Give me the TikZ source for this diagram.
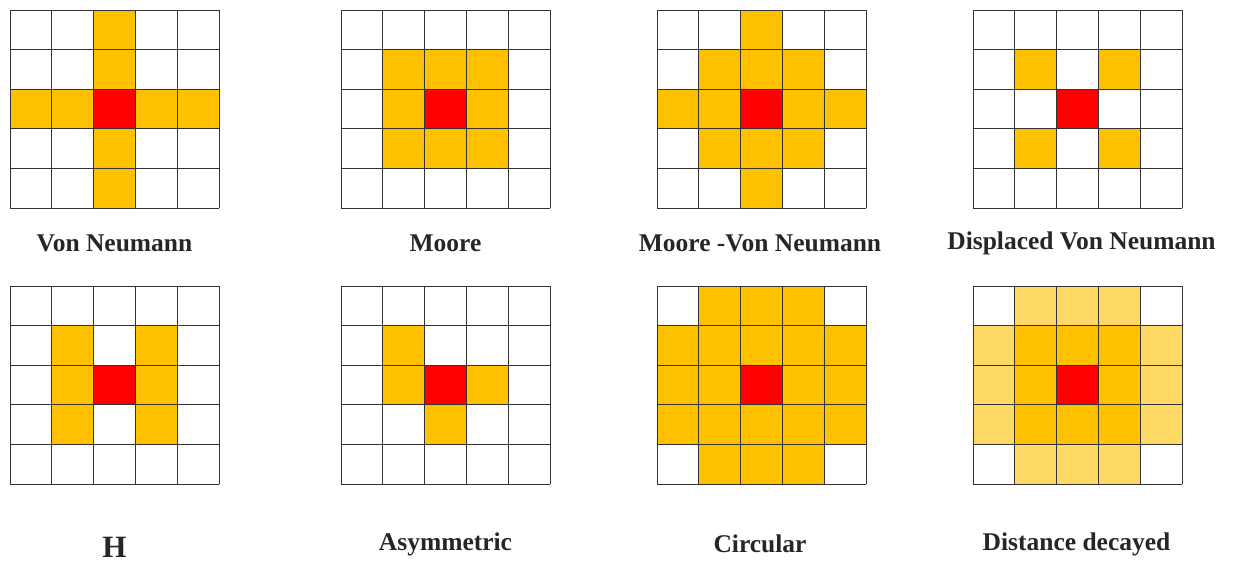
\documentclass[tikz,border=0pt]{standalone}
\usepackage{fontspec}
\setmainfont{Liberation Serif}
\usepackage{xcolor}
\usepackage{tikz}
\definecolor{nbrorange}{HTML}{FFC000}
\definecolor{nbrlight}{HTML}{FFD966}
\definecolor{cellred}{HTML}{FF0000}
\definecolor{gridgray}{HTML}{333333}
\definecolor{labelgray}{HTML}{262626}

\newcommand{\cellgrid}{\foreach \i in {0,...,5} \draw[gridline] (\i,0) -- (\i,5) (0,\i) -- (5,\i);}

\begin{document}
\begin{tikzpicture}[x=1pt,y=-1pt,
    nbr/.style={fill=nbrorange},
    far/.style={fill=nbrlight},
    centre/.style={fill=cellred},
    gridline/.style={draw=gridgray,line width=0.9pt,line cap=rect},
    caption/.style={text=labelgray,font=\bfseries\fontsize{25.5}{30}\selectfont,anchor=center,inner sep=0pt},
    cellunit/.style={x=41.8pt,y=-39.6pt}]
\useasboundingbox (0,0) rectangle (1235,562);

% first row
\begin{scope}[shift={(10,10)},cellunit]
    \foreach \c/\r in {2/0,2/1,0/2,1/2,3/2,4/2,2/3,2/4} \fill[nbr] (\c,\r) rectangle ++(1,1);
    \fill[centre] (2,2) rectangle ++(1,1);
    \cellgrid
\end{scope}
\begin{scope}[shift={(341,10)},cellunit]
    \foreach \c/\r in {1/1,2/1,3/1,1/2,3/2,1/3,2/3,3/3} \fill[nbr] (\c,\r) rectangle ++(1,1);
    \fill[centre] (2,2) rectangle ++(1,1);
    \cellgrid
\end{scope}
\begin{scope}[shift={(657,10)},cellunit]
    \foreach \c/\r in {2/0,1/1,2/1,3/1,0/2,1/2,3/2,4/2,1/3,2/3,3/3,2/4} \fill[nbr] (\c,\r) rectangle ++(1,1);
    \fill[centre] (2,2) rectangle ++(1,1);
    \cellgrid
\end{scope}
\begin{scope}[shift={(973,10)},cellunit]
    \foreach \c/\r in {1/1,3/1,1/3,3/3} \fill[nbr] (\c,\r) rectangle ++(1,1);
    \fill[centre] (2,2) rectangle ++(1,1);
    \cellgrid
\end{scope}

% second row
\begin{scope}[shift={(10,286)},cellunit]
    \foreach \c/\r in {1/1,1/2,1/3,3/1,3/2,3/3} \fill[nbr] (\c,\r) rectangle ++(1,1);
    \fill[centre] (2,2) rectangle ++(1,1);
    \cellgrid
\end{scope}
\begin{scope}[shift={(341,286)},cellunit]
    \foreach \c/\r in {1/1,1/2,3/2,2/3} \fill[nbr] (\c,\r) rectangle ++(1,1);
    \fill[centre] (2,2) rectangle ++(1,1);
    \cellgrid
\end{scope}
\begin{scope}[shift={(657,286)},cellunit]
    \fill[nbr] (1,0) rectangle (4,5);
    \fill[nbr] (0,1) rectangle (5,4);
    \fill[centre] (2,2) rectangle ++(1,1);
    \cellgrid
\end{scope}
\begin{scope}[shift={(973,286)},cellunit]
    \fill[far] (1,0) rectangle (4,5);
    \fill[far] (0,1) rectangle (5,4);
    \fill[nbr] (1,1) rectangle (4,4);
    \fill[centre] (2,2) rectangle ++(1,1);
    \cellgrid
\end{scope}

\node[caption] (vonneumann) at (114.5,243) {Von Neumann};
\node[caption] (moore) at (445.5,243) {Moore};
\node[caption] (moorevn) at (760,243) {Moore -Von Neumann};
\node[caption] (displaced) at (1081.5,243) {Displaced Von Neumann};
\node[caption,font=\bfseries\fontsize{31}{36}\selectfont] (hshape) at (114.5,547) {H};
\node[caption] (asym) at (445.5,544) {Asymmetric};
\node[caption] (circ) at (760,544) {Circular};
\node[caption] (decay) at (1076.5,544) {Distance decayed};
\end{tikzpicture}
\end{document}
